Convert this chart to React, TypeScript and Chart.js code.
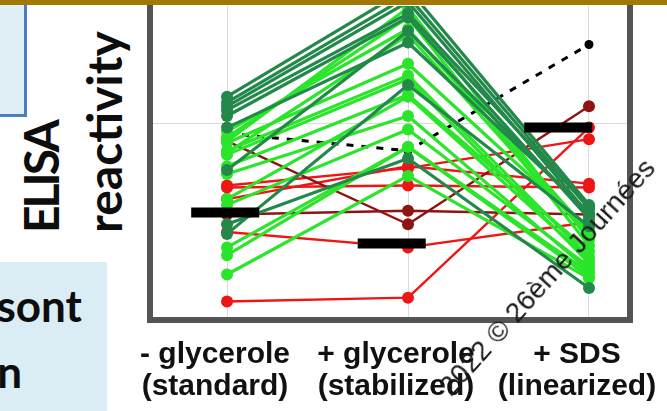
import React, { useEffect, useRef } from 'react';
import { Chart, registerables } from 'chart.js';

Chart.register(...registerables);

// ---- data (ELISA reactivity, arbitrary OD units) ----
const CATEGORIES: string[][] = [
  ['- glycerole', '(standard)'],
  ['+ glycerole', '(stabilized)'],
  ['+ SDS', '(linearized)'],
];
const Y_GRID = [1];

const DARK_GREEN_SERIES: number[][] = [
  [1.14, 1.70, 0.58],
  [1.11, 1.66, 0.56],
  [1.09, 1.63, 0.53],
  [1.07, 1.57, 0.57],
  [1.04, 1.55, 0.51],
  [0.98, 1.42, 0.54],
  [0.76, 1.48, 0.53],
  [0.48, 0.82, 0.15],
  [0.43, 1.20, 0.47],
];

const BRIGHT_GREEN_SERIES: number[][] = [
  [0.96, 1.49, 0.44],
  [0.93, 1.55, 0.37],
  [0.91, 1.60, 0.40],
  [0.90, 1.31, 0.45],
  [0.86, 1.25, 0.31],
  [0.85, 1.46, 0.42],
  [0.84, 1.23, 0.28],
  [0.78, 1.15, 0.34],
  [0.74, 1.04, 0.24],
  [0.61, 1.14, 0.30],
  [0.58, 0.97, 0.26],
  [0.36, 0.88, 0.21],
  [0.32, 0.88, 0.23],
  [0.22, 0.73, 0.20],
];

const RED_SERIES: number[][] = [
  [0.08, 0.10, 0.98],
  [0.44, 0.36, 0.49],
  [0.68, 0.77, 0.92],
  [0.67, 0.68, 0.67],
  [0.61, 0.78, 0.69],
];

const DARK_RED_SERIES: number[][] = [
  [0.91, 0.48, 1.09],
  [0.53, 0.55, 0.53],
];

const MEAN_SERIES = [0.95, 0.86, 1.41];
const MEDIAN_VALUES = [0.54, 0.38, 0.98];

// ---- styles ----
const DARK_GREEN = '#22894A';
const BRIGHT_GREEN = '#2BE52B';
const RED = '#F01515';
const DARK_RED = '#8E1414';
const MEDIAN_SHIFT = [-0.01, -0.09, -0.17];
const MEDIAN_HALF = 0.188;
const LABEL_FONT = '"Liberation Sans", Arial, sans-serif';

export default function App() {
  const ref = useRef<HTMLCanvasElement>(null);

  useEffect(() => {
    document.body.style.margin = '0';
    const canvas = ref.current;
    if (!canvas) return;

    const toPts = (vals: number[]) => vals.map((y, i) => ({ x: i, y }));
    const series = (vals: number[], color: string, width: number, order: number, radius = 6) => ({
      type: 'line' as const,
      data: toPts(vals),
      borderColor: color,
      backgroundColor: color,
      pointBackgroundColor: color,
      pointBorderWidth: 0,
      pointRadius: radius,
      borderWidth: width,
      borderJoinStyle: 'round' as const,
      tension: 0,
      order,
    });

    const datasets: any[] = [
      {
        ...series(MEAN_SERIES, '#000', 3, 6, 4.5),
        borderDash: [7, 8],
      },
      ...RED_SERIES.map((v) => series(v, RED, 2.4, 5)),
      ...DARK_RED_SERIES.map((v) => series(v, DARK_RED, 2.4, 4)),
      ...BRIGHT_GREEN_SERIES.map((v) => series(v, BRIGHT_GREEN, 3.2, 3)),
      ...DARK_GREEN_SERIES.map((v) => series(v, DARK_GREEN, 3.2, 2)),
      ...MEDIAN_VALUES.map((m, i) => ({
        type: 'line' as const,
        data: [
          { x: i + MEDIAN_SHIFT[i] - MEDIAN_HALF, y: m },
          { x: i + MEDIAN_SHIFT[i] + MEDIAN_HALF, y: m },
        ],
        borderColor: '#000',
        borderWidth: 10,
        borderCapStyle: 'butt' as const,
        pointRadius: 0,
        order: 0,
      })),
    ];

    const framePlugin = {
      id: 'frame',
      afterDraw(chart: any) {
        const { ctx, chartArea } = chart;
        const { left, right, bottom, top } = chartArea;
        ctx.save();
        ctx.strokeStyle = '#545454';
        ctx.lineWidth = 6;
        ctx.lineJoin = 'miter';
        ctx.beginPath();
        ctx.moveTo(left - 3, top - 10);
        ctx.lineTo(left - 3, bottom + 3);
        ctx.lineTo(right + 3, bottom + 3);
        ctx.lineTo(right + 3, top - 10);
        ctx.stroke();
        ctx.restore();
      },
    };

    const chart = new Chart(canvas, {
      type: 'line',
      data: { datasets },
      plugins: [framePlugin],
      options: {
        responsive: false,
        animation: false,
        events: [],
        layout: { padding: { left: 0, right: 40, top: 0, bottom: 0 } },
        plugins: { legend: { display: false }, tooltip: { enabled: false } },
        scales: {
          x: {
            type: 'linear',
            min: -0.409,
            max: 2.21,
            afterFit: (s: any) => {
              s.height = 94;
              s.paddingLeft = 0;
              s.paddingRight = 0;
            },
            afterBuildTicks: (s: any) => {
              s.ticks = CATEGORIES.map((_, i) => ({ value: i }));
            },
            ticks: {
              autoSkip: false,
              maxRotation: 0,
              padding: 22,
              labelOffset: -12,
              color: '#111',
              font: { family: LABEL_FONT, size: 30, weight: 'bold', lineHeight: 1.07 },
              callback: (v: any) => CATEGORIES[v as number],
            },
            grid: { color: '#DADADA', lineWidth: 1, drawTicks: false },
            border: { display: false },
          },
          y: {
            type: 'linear',
            min: 0,
            max: 1.609,
            afterFit: (s: any) => {
              s.width = 153;
              s.paddingTop = 0;
              s.paddingBottom = 0;
            },
            afterBuildTicks: (s: any) => {
              s.ticks = Y_GRID.map((v) => ({ value: v }));
            },
            ticks: { display: false },
            grid: { color: '#DADADA', lineWidth: 1, drawTicks: false },
            border: { display: false },
          },
        },
      } as any,
    });

    return () => chart.destroy();
  }, []);

  return (
    <div
      style={{
        position: 'fixed',
        left: 0,
        top: 0,
        width: 667,
        height: 411,
        overflow: 'hidden',
        background: '#fff',
      }}
    >
      {/* top-left box */}
      <div
        style={{
          position: 'absolute',
          left: -10,
          top: -3,
          width: 34,
          height: 117,
          background: '#E1F0F6',
          borderRight: '3px solid #4A7EBF',
          borderBottom: '3px solid #4A7EBF',
        }}
      />
      {/* bottom-left box */}
      <div
        style={{
          position: 'absolute',
          left: 0,
          top: 262,
          width: 107,
          height: 149,
          background: '#DAEDF4',
        }}
      />
      <div
        style={{
          position: 'absolute',
          right: 585,
          top: 283,
          font: 'bold 44px Lato, sans-serif',
          lineHeight: '44px',
          whiteSpace: 'nowrap',
          color: '#0d0d0d',
        }}
      >
        sont
      </div>
      <div
        style={{
          position: 'absolute',
          right: 645,
          top: 349,
          font: 'bold 44px Lato, sans-serif',
          lineHeight: '44px',
          whiteSpace: 'nowrap',
          color: '#0d0d0d',
        }}
      >
        n
      </div>
      {/* rotated axis title */}
      <div
        style={{
          position: 'absolute',
          left: 0,
          top: 0,
          transformOrigin: '0 0',
          transform: 'translate(9px, 233px) rotate(-90deg)',
          font: 'bold 48px Lato, sans-serif',
          lineHeight: '63px',
          whiteSpace: 'nowrap',
          color: '#0d0d0d',
        }}
      >
        <span style={{ letterSpacing: '-3px' }}>ELISA</span>
        <br />
        reactivity
      </div>

      <canvas ref={ref} width={667} height={411} style={{ position: 'absolute', left: 0, top: 0 }} />

      {/* watermark */}
      <div
        style={{
          position: 'absolute',
          left: 452,
          top: 374,
          transformOrigin: '0 24px',
          transform: 'rotate(-48deg)',
          font: '28px "Liberation Sans", Arial, sans-serif',
          lineHeight: '28px',
          whiteSpace: 'nowrap',
          color: '#1a1a1a',
        }}
      >
        2022 © 26ème Journées
      </div>
      {/* top gold bar */}
      <div
        style={{
          position: 'absolute',
          left: 0,
          top: 0,
          width: 667,
          height: 5,
          background: '#A27900',
        }}
      />
    </div>
  );
}
